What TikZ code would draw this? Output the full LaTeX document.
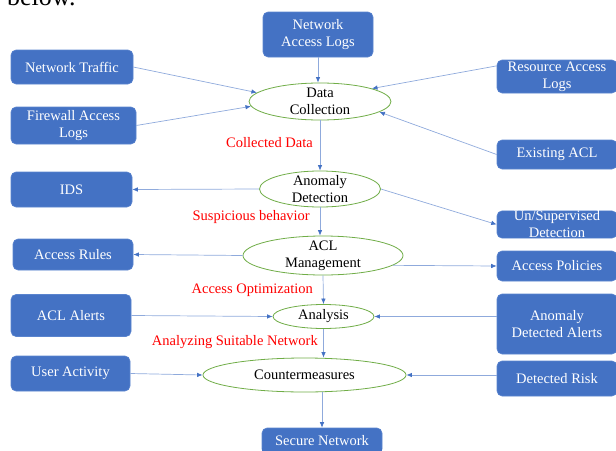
\documentclass[tikz,border=0pt]{standalone}
\usepackage{fontspec}
\setmainfont{Liberation Serif}
\usetikzlibrary{shapes.geometric,arrows.meta}
\definecolor{boxblue}{HTML}{4472C4}
\definecolor{boxedge}{HTML}{5A84CE}
\definecolor{elgreen}{HTML}{70AD47}
\definecolor{linblue}{HTML}{8FAADC}
\definecolor{tipblue}{HTML}{4472C4}
\definecolor{lblred}{HTML}{FF0000}
\begin{document}
\begin{tikzpicture}[x=1pt,y=-1pt,
  font=\fontsize{14.5}{17}\selectfont,
  bx/.style={draw=boxedge, line width=0.6pt, fill=boxblue, rounded corners=5pt,
    text=white, align=center, inner sep=0pt},
  el/.style={ellipse, draw=elgreen, line width=0.8pt, fill=white, text=black,
    align=center, inner xsep=0pt, inner ysep=-6pt},
  arr/.style={draw=linblue, line width=0.7pt,
    -{Latex[length=5.5pt,width=4.5pt,color=tipblue]}},
  lbl/.style={text=lblred, inner sep=0pt, anchor=east}]
\useasboundingbox (0,0) rectangle (616,450);
\clip (0,0) rectangle (616,450);

% cut-off text at top
\node[anchor=base west, inner sep=0pt, font=\fontsize{26}{30}\selectfont] (below) at (7,5) {below.};

% boxes
\node[bx, minimum width=110pt, minimum height=45pt] (nal) at (318,34.5) {Network\\Access Logs};
\node[bx, minimum width=122pt, minimum height=34pt] (nt) at (72,67) {Network Traffic};
\node[bx, minimum width=125pt, minimum height=37pt] (fw) at (73.5,125.5) {Firewall Access\\Logs};
\node[bx, minimum width=120pt, minimum height=33pt] (rs) at (557,76.5) {Resource Access\\Logs};
\node[bx, minimum width=120pt, minimum height=29pt] (ea) at (557,154.5) {Existing ACL};
\node[bx, minimum width=121pt, minimum height=35pt] (ids) at (71.5,189.5) {IDS};
\node[bx, minimum width=120pt, minimum height=27pt] (us) at (557,224.5) {Un/Supervised\\Detection};
\node[bx, minimum width=120pt, minimum height=31pt] (ar) at (73,254.5) {Access Rules};
\node[bx, minimum width=120pt, minimum height=30pt] (ap) at (557,266) {Access Policies};
\node[bx, minimum width=120pt, minimum height=42pt] (acla) at (71,315.5) {ACL Alerts};
\node[bx, minimum width=120pt, minimum height=60pt] (ada) at (557,324) {Anomaly\\Detected Alerts};
\node[bx, minimum width=119pt, minimum height=35pt] (ua) at (70.5,373.5) {User Activity};
\node[bx, minimum width=120pt, minimum height=35pt] (dr) at (557,378.5) {Detected Risk};
\node[bx, minimum width=120pt, minimum height=26pt] (sn) at (322,441) {Secure Network};
\path[bx, sharp corners, draw=none] (sn.south west) ++(0.3,-6) rectangle ([xshift=-0.3pt]sn.south east);

% ellipses
\node[el, minimum width=142pt, minimum height=37pt] (dc) at (320,101.5) {Data\\Collection};
\node[el, minimum width=121pt, minimum height=36pt] (ad) at (320,189) {Anomaly\\Detection};
\node[el, minimum width=160pt, minimum height=39pt] (acl) at (323,255.5) {ACL\\Management};
\node[el, minimum width=101pt, minimum height=24pt] (an) at (323.5,316.5) {Analysis};
\node[el, minimum width=203pt, minimum height=34pt] (cm) at (304.5,375) {Countermeasures};

% red labels
\node[lbl] (l1) at (313,143) {Collected Data};
\node[lbl] (l2) at (310,217) {Suspicious behavior};
\node[lbl] (l3) at (313,290) {Access Optimization};
\node[lbl] (l4) at (318,342) {Analyzing Suitable Network};

% connectors
\draw[arr] (nal.south) -- (nal.south |- dc.north);
\draw[arr] (nt.east) -- (dc.172);
\draw[arr] (fw.east) -- (dc.184);
\draw[arr] (rs.170) -- (dc.14);
\draw[arr] (ea.west) -- (dc.-10);
\draw[arr] (dc.south) -- (ad.north);
\draw[arr] (ad.west) -- (ids.east);
\draw[arr] (ad.east) -- (us.west);
\draw[arr] (ad.south) -- (ad.south |- acl.north);
\draw[arr] (acl.west) -- (ar.east);
\draw[arr] (acl.-8) -- (ap.west);
\draw[arr] (acl.south) -- (an.north);
\draw[arr] (acla.east) -- (an.west);
\draw[arr] (ada.west |- an.east) -- (an.east);
\draw[arr] (an.south) -- (an.south |- cm.north);
\draw[arr] (ua.east) -- (cm.west);
\draw[arr] (dr.west |- cm.east) -- (cm.east);
\draw[arr] (sn.north |- cm.south) -- (sn.north);
\end{tikzpicture}
\end{document}
